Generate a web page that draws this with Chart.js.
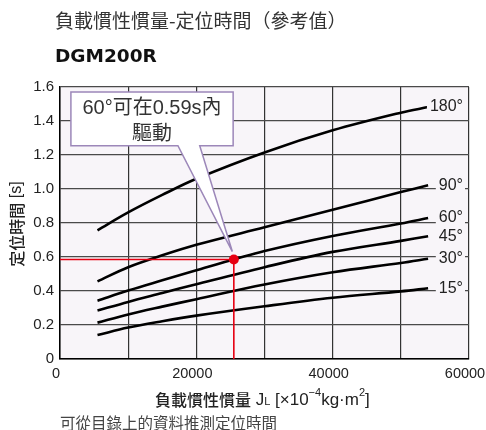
<!DOCTYPE html>
<html>
<head>
<meta charset="utf-8">
<script src="https://cdn.jsdelivr.net/npm/chart.js@4.4.1/dist/chart.umd.min.js"></script>
<style>
  html, body { margin: 0; padding: 0; background: #fff; }
  #wrap { width: 486px; height: 430px; position: relative; }
</style>
</head>
<body>
<div id="wrap"><canvas id="c" width="486" height="430"></canvas></div>
<script>
// load inertia (x10^-4 kg.m2) vs positioning time (s)
const inertia = [5500, 10000, 15000, 20000, 30000, 40000, 50000, 54000];
const t180 = [0.757, 0.862, 0.965, 1.06, 1.215, 1.345, 1.449, 1.482];
const t90  = [0.457, 0.54, 0.61, 0.672, 0.775, 0.878, 0.982, 1.022];
const t60  = [0.343, 0.403, 0.463, 0.522, 0.635, 0.724, 0.797, 0.829];
const t45  = [0.285, 0.336, 0.388, 0.44, 0.54, 0.63, 0.695, 0.722];
const t30  = [0.214, 0.262, 0.308, 0.352, 0.438, 0.51, 0.565, 0.59];
const t15  = [0.141, 0.185, 0.222, 0.255, 0.31, 0.36, 0.398, 0.416];
const angleLabels = ['180°', '90°', '60°', '45°', '30°', '15°'];
const xTickLabels = [0, 20000, 40000, 60000];

// worked example: 60 deg at ~25500 -> 0.59 s
const example = { x: 25500, y: 0.585 };
const calloutLines = ['60°可在0.59s內', '驅動'];

const titleText = '負載慣性慣量-定位時間（參考值）';
const modelText = 'DGM200R';
const noteText = '可從目錄上的資料推測定位時間';

const PLOT_BG = '#f8f5f9';
const CJK = '"Noto Sans CJK TC", "Noto Sans CJK SC", sans-serif';
const LAT = '"Liberation Sans", Arial, sans-serif';

function pts(ys) { return inertia.map((x, i) => ({ x: x, y: ys[i] })); }

const curves = [t180, t90, t60, t45, t30, t15].map((ys, i) => ({
  label: angleLabels[i],
  data: pts(ys),
  borderColor: '#000',
  borderWidth: 2.6,
  pointRadius: 0,
  tension: 0.35,
  isCurve: true
}));

const datasets = [
  { label: 'pt', data: [example], pointRadius: 5, pointBackgroundColor: '#e60012',
    pointBorderWidth: 0, showLine: false },
  { label: 'guide', data: [{ x: 0, y: example.y }, example, { x: example.x, y: 0 }],
    borderColor: '#e60012', borderWidth: 1.6, pointRadius: 0, tension: 0 }
].concat(curves);

const bgPlugin = {
  id: 'bg',
  beforeDraw(chart) {
    const a = chart.chartArea, ctx = chart.ctx;
    ctx.save();
    ctx.fillStyle = PLOT_BG;
    ctx.fillRect(a.left, a.top, a.right - a.left, a.bottom - a.top);
    ctx.restore();
  }
};

const textPlugin = {
  id: 'texts',
  afterDraw(chart) {
    const ctx = chart.ctx;
    const xs = chart.scales.x, ys = chart.scales.y;
    ctx.save();
    ctx.textBaseline = 'middle';

    // headings
    ctx.fillStyle = '#333';
    ctx.font = '19px ' + CJK;
    ctx.fillText(titleText, 55, 21);
    ctx.fillStyle = '#111';
    ctx.font = 'bold 18.5px "DejaVu Sans", sans-serif';
    ctx.fillText(modelText, 55, 57);
    ctx.fillStyle = '#444';
    ctx.font = '15.5px ' + CJK;
    ctx.fillText(noteText, 60, 423);

    // angle labels at curve ends
    ctx.font = '16px ' + LAT;
    ctx.textAlign = 'right';
    chart.data.datasets.forEach((ds, i) => {
      if (!ds.isCurve) return;
      const meta = chart.getDatasetMeta(i);
      const last = meta.data[meta.data.length - 1];
      const w = ctx.measureText(ds.label).width;
      const rx = 463;
      ctx.fillStyle = PLOT_BG;
      ctx.fillRect(rx - w - 3, last.y - 8, w + 5, 16);
      ctx.fillStyle = '#222';
      ctx.fillText(ds.label, rx, last.y);
    });
    ctx.textAlign = 'left';

    // callout box with pointer to the example point
    const bl = xs.getPixelForValue(1600), br = xs.getPixelForValue(25400);
    const bt = ys.getPixelForValue(1.57), bb = ys.getPixelForValue(1.255);
    const pl = xs.getPixelForValue(17300), pr = xs.getPixelForValue(20500);
    const tx = xs.getPixelForValue(example.x) - 1.5, ty = ys.getPixelForValue(example.y) - 8;
    ctx.beginPath();
    ctx.moveTo(bl, bt);
    ctx.lineTo(br, bt);
    ctx.lineTo(br, bb);
    ctx.lineTo(pr, bb);
    ctx.lineTo(tx, ty);
    ctx.lineTo(pl, bb);
    ctx.lineTo(bl, bb);
    ctx.closePath();
    ctx.fillStyle = '#fff';
    ctx.fill();
    ctx.strokeStyle = '#9c87b9';
    ctx.lineWidth = 1.5;
    ctx.stroke();
    ctx.fillStyle = '#333';
    ctx.textAlign = 'center';
    const cx = (bl + br) / 2;
    ctx.font = '20px ' + LAT + ', ' + CJK;
    ctx.fillText(calloutLines[0], cx, 108);
    ctx.font = '20px ' + CJK;
    ctx.fillText(calloutLines[1], cx, 132);
    ctx.textAlign = 'left';

    // x axis title, built from pieces
    let x = 155;
    const y0 = 400;
    const piece = (s, font, dy) => {
      ctx.font = font;
      ctx.fillText(s, x, y0 + (dy || 0));
      x += ctx.measureText(s).width;
    };
    ctx.fillStyle = '#222';
    piece('負載慣性慣量', '500 16px ' + CJK);
    piece(' J', '17px ' + LAT);
    piece('L', '11px ' + LAT, 2);
    piece(' [×10', '17px ' + LAT);
    piece('−4', '11px ' + LAT, -7);
    piece('kg·m', '17px ' + LAT);
    piece('2', '11px ' + LAT, -7);
    piece(']', '17px ' + LAT);

    // y axis title, rotated
    ctx.save();
    ctx.translate(17, 224);
    ctx.rotate(-Math.PI / 2);
    ctx.font = '500 16px ' + CJK;
    const a = '定位時間', b = ' [s]';
    const wa = ctx.measureText(a).width;
    ctx.font = '16px ' + LAT;
    const wb = ctx.measureText(b).width;
    const sx = -(wa + wb) / 2;
    ctx.font = '500 16px ' + CJK;
    ctx.fillText(a, sx, 0);
    ctx.font = '16px ' + LAT;
    ctx.fillText(b, sx + wa, 0);
    ctx.restore();

    ctx.restore();
  }
};

new Chart(document.getElementById('c'), {
  type: 'line',
  data: { datasets: datasets },
  options: {
    responsive: false,
    animation: false,
    events: [],
    layout: { padding: { top: 87, right: 17, left: 0, bottom: 0 } },
    plugins: { legend: { display: false }, tooltip: { enabled: false } },
    scales: {
      x: {
        type: 'linear',
        min: 0, max: 60000,
        grid: { color: '#333', lineWidth: 1.2, drawTicks: false },
        border: { color: '#000', width: 1.5 },
        ticks: {
          stepSize: 10000, autoSkip: false, maxRotation: 0, padding: 6,
          labelOffset: -4,
          color: '#222', font: { family: LAT, size: 14.5 },
          callback: v => xTickLabels.includes(v) ? String(v) : ''
        },
        afterFit: s => { s.height = 71; s.paddingLeft = 0; s.paddingRight = 0; }
      },
      y: {
        min: 0, max: 1.6,
        grid: { color: '#4a4a4a', lineWidth: 1.2, drawTicks: false },
        border: { color: '#000', width: 1.5 },
        ticks: {
          stepSize: 0.2, padding: 6,
          color: '#222', font: { family: LAT, size: 15 },
          callback: v => v === 0 ? '0' : v.toFixed(1)
        },
        afterFit: s => { s.width = 60; s.paddingTop = 0; s.paddingBottom = 0; }
      }
    }
  },
  plugins: [bgPlugin, textPlugin]
});
</script>
</body>
</html>
